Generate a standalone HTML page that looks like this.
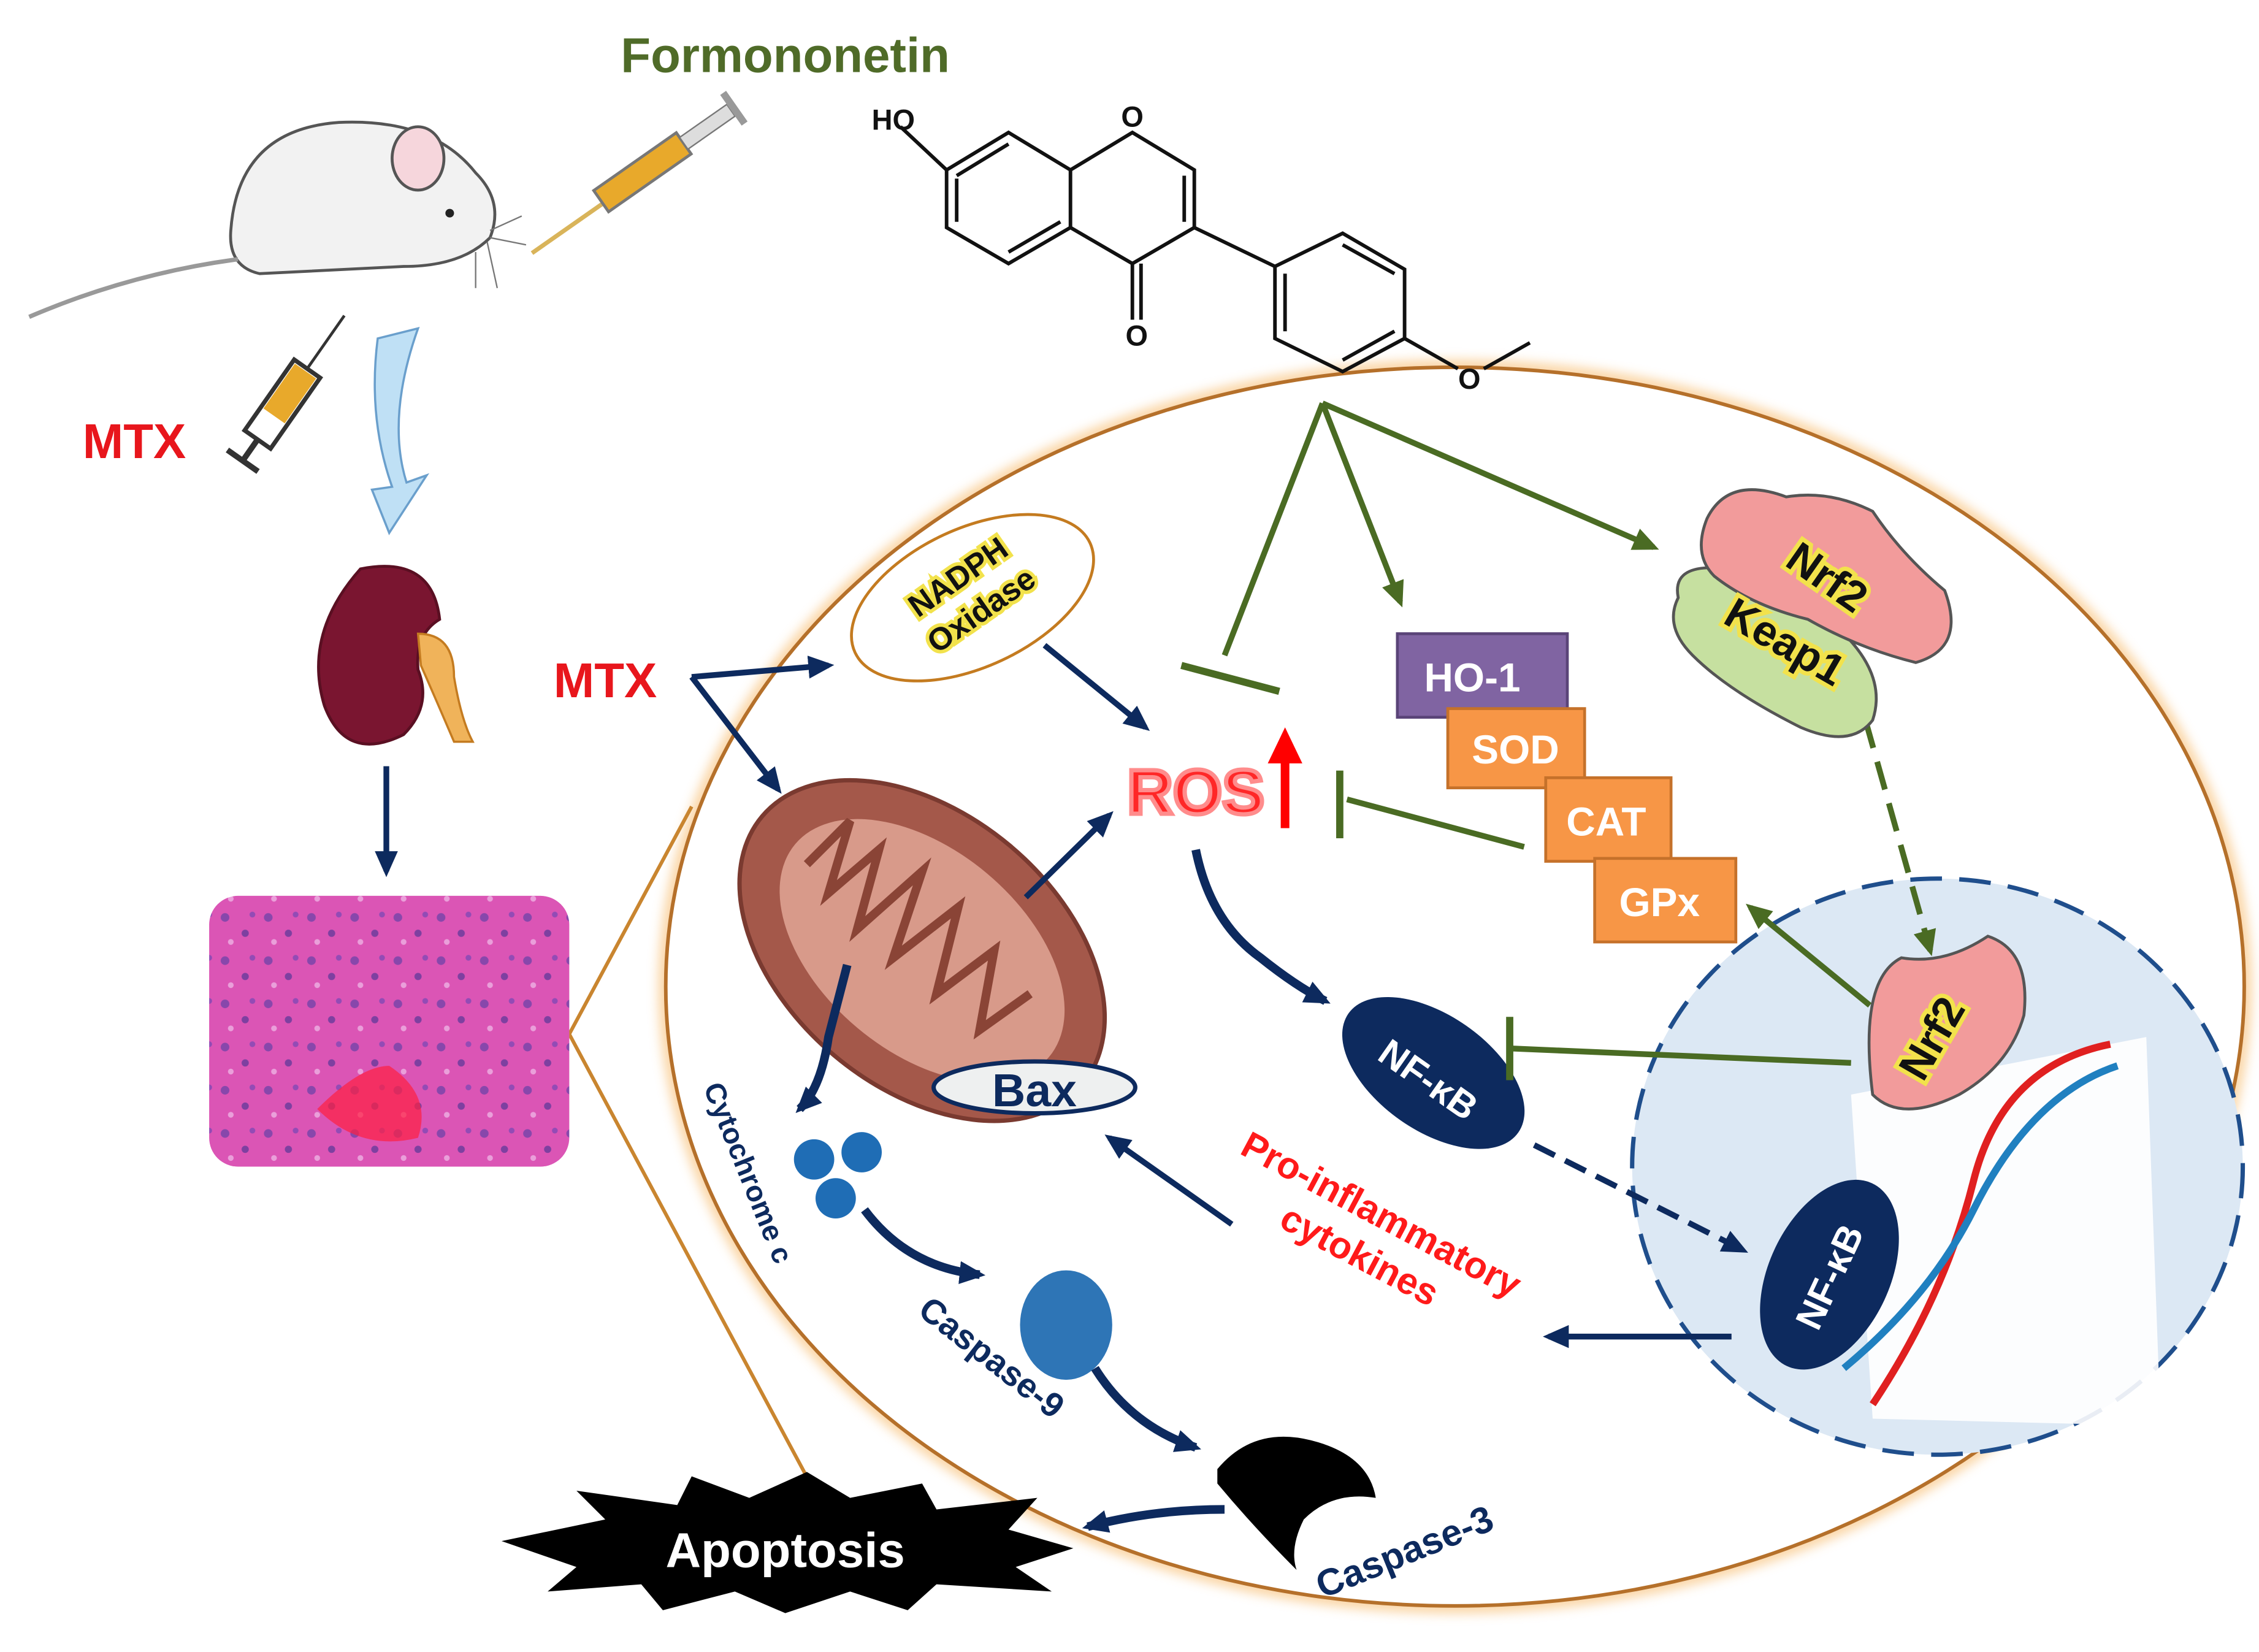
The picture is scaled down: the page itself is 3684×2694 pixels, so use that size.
<!DOCTYPE html>
<html><head><meta charset="utf-8"><style>
html,body{margin:0;padding:0;background:#fff;}
svg{display:block;}
text{font-family:"Liberation Sans",sans-serif;font-weight:bold;}
</style></head><body>
<svg width="3684" height="2694" viewBox="0 0 1568 1147" xmlns="http://www.w3.org/2000/svg">
<defs>
<marker id="nv" markerWidth="8" markerHeight="8" refX="6" refY="4" orient="auto" markerUnits="userSpaceOnUse"><path d="M0,0 L8,4 L0,8 Z" fill="#0d2a5e" transform="scale(2.2) translate(-3,-2)"/></marker>
<marker id="gr" markerWidth="20" markerHeight="20" refX="14" refY="8" orient="auto" markerUnits="userSpaceOnUse"><path d="M0,0 L18,8 L0,16 Z" fill="#4a6b23"/></marker>
<marker id="nb" markerWidth="22" markerHeight="22" refX="14" refY="8" orient="auto" markerUnits="userSpaceOnUse"><path d="M0,0 L18,8 L0,16 Z" fill="#0d2a5e"/></marker>
<marker id="tg" markerWidth="6" markerHeight="40" refX="3" refY="20" orient="auto" markerUnits="userSpaceOnUse"><rect x="0" y="0" width="5" height="40" fill="#4a6b23"/></marker>
<filter id="glow"><feGaussianBlur stdDeviation="4"/></filter>
<pattern id="tis" width="30" height="30" patternUnits="userSpaceOnUse"><rect width="30" height="30" fill="#d94fb0"/><circle cx="6" cy="7" r="3" fill="#5a3aa0"/><circle cx="20" cy="18" r="2.5" fill="#4a2f90"/><circle cx="25" cy="5" r="2" fill="#6a40b0"/><circle cx="10" cy="24" r="2" fill="#f0c0e8"/></pattern>
</defs>

<!-- cell -->
<ellipse cx="1010" cy="685" rx="548" ry="430" fill="none" stroke="#f5a742" stroke-width="10" opacity="0.5" filter="url(#glow)"/>
<ellipse cx="1010" cy="685" rx="548" ry="430" fill="#fff" stroke="#b5702a" stroke-width="2.5"/>
<!-- zoom lines -->
<line x1="395" y1="718" x2="480" y2="560" stroke="#c9852f" stroke-width="2.5"/>
<line x1="395" y1="718" x2="600" y2="1100" stroke="#c9852f" stroke-width="2.5"/>

<!-- nucleus -->
<ellipse cx="1345" cy="810" rx="212" ry="200" fill="#dce8f4" stroke="#1f4e8c" stroke-width="3" stroke-dasharray="22,12"/>

<!-- Formononetin -->
<text x="545" y="50" font-size="34" fill="#4f6b28" text-anchor="middle">Formononetin</text>
<g stroke="#111" stroke-width="2.5" fill="none">
<path d="M657,118 L700,92 L743,118 L743,158 L700,183 L657,158 Z"/>
<path d="M664,122 L700,100 M736,154 L700,175 M664,154 L664,124"/>
<path d="M743,118 L786,92 L829,118 L829,158 L786,183 L743,158"/>
<path d="M822,122 L822,154"/>
<line x1="786" y1="183" x2="786" y2="222"/><line x1="792" y1="183" x2="792" y2="222"/>
<line x1="657" y1="118" x2="625" y2="88"/>
<line x1="829" y1="158" x2="885" y2="185"/>
<path d="M885,185 L932,162 L975,187 L975,235 L932,258 L885,235 Z"/>
<path d="M892,190 L892,230 M932,250 L968,230 M932,170 L968,190"/>
<path d="M975,235 L1012,256 M1030,256 L1062,238"/>
</g>
<text x="605" y="90" font-size="20" fill="#111" font-weight="normal">HO</text>
<text x="786" y="88" font-size="20" fill="#111" font-weight="normal" text-anchor="middle">O</text>
<text x="789" y="240" font-size="20" fill="#111" font-weight="normal" text-anchor="middle">O</text>
<text x="1020" y="270" font-size="20" fill="#111" font-weight="normal" text-anchor="middle">O</text>

<!-- mouse -->
<g>
<path d="M160,160 Q165,90 235,85 Q300,82 330,120 Q350,140 340,165 Q320,185 280,185 L180,190 Q158,185 160,160 Z" fill="#f2f2f2" stroke="#555" stroke-width="2"/>
<ellipse cx="290" cy="110" rx="18" ry="22" fill="#f6d6dc" stroke="#555" stroke-width="2"/>
<circle cx="312" cy="148" r="3" fill="#222"/>
<path d="M165,180 Q90,190 20,220" stroke="#999" stroke-width="3" fill="none"/>
<path d="M340,160 L362,150 M340,165 L365,170 M338,168 L345,200 M330,175 L330,200" stroke="#777" stroke-width="1"/>
</g>
<!-- syringes -->
<g transform="translate(440,120) rotate(-35)">
<path d="M-90,5 L-30,5" stroke="#d9b45a" stroke-width="3"/>
<rect x="-30" y="-6" width="70" height="18" fill="#e8a92b" stroke="#777" stroke-width="2"/>
<rect x="40" y="-2" width="40" height="10" fill="#ddd" stroke="#777"/>
<rect x="80" y="-10" width="5" height="26" fill="#999"/>
</g>
<g transform="translate(195,280) rotate(-55)">
<rect x="-30" y="-10" width="60" height="22" fill="#fff" stroke="#333" stroke-width="3"/>
<rect x="-10" y="-8" width="38" height="18" fill="#e8a92b"/>
<path d="M30,1 L75,1" stroke="#333" stroke-width="2"/>
<path d="M-30,1 L-48,1 M-48,-12 L-48,14" stroke="#333" stroke-width="4"/>
</g>
<text x="93" y="318" font-size="34" fill="#e8161c" text-anchor="middle">MTX</text>
<!-- blue curved arrow -->
<path d="M262,235 L290,228 Q268,290 282,335 L296,330 L270,370 L258,340 L272,338 Q255,290 262,235 Z" fill="#bfe0f5" stroke="#6a9fcc" stroke-width="1.5"/>
<!-- kidney -->
<path d="M250,395 Q300,385 305,430 Q288,440 290,465 Q300,490 280,510 Q240,530 225,490 Q210,440 250,395 Z" fill="#7a1530" stroke="#5a0f22" stroke-width="2"/>
<path d="M290,440 Q315,440 315,470 Q320,500 328,515 L315,515 Q300,480 292,462 Z" fill="#f0b35a" stroke="#c47b20" stroke-width="1.5"/>
<line x1="268" y1="532" x2="268" y2="605" stroke="#0d2a5e" stroke-width="4" marker-end="url(#nb)"/>
<!-- tissue -->
<rect x="145" y="622" width="250" height="188" rx="20" fill="url(#tis)"/>
<rect x="145" y="622" width="250" height="188" rx="20" fill="#e060c0" opacity="0.35"/>
<path d="M220,770 Q250,740 270,740 Q300,760 290,790 Q250,800 220,770Z" fill="#ff2040" opacity="0.7"/>

<!-- MTX middle -->
<text x="420" y="484" font-size="34" fill="#e8161c" text-anchor="middle">MTX</text>
<path d="M480,470 L575,462" stroke="#0d2a5e" stroke-width="4" fill="none" marker-end="url(#nb)"/>
<path d="M480,470 L540,548" stroke="#0d2a5e" stroke-width="4" fill="none" marker-end="url(#nb)"/>

<!-- NADPH -->
<ellipse cx="675" cy="415" rx="90" ry="48" transform="rotate(-25 675 415)" fill="#fff" stroke="#c47b20" stroke-width="2"/>
<g transform="rotate(-35 675 415)"><text x="675" y="405" font-size="22" fill="#111" text-anchor="middle" stroke="#f2e24c" stroke-width="5" paint-order="stroke">NADPH</text><text x="675" y="433" font-size="22" fill="#111" text-anchor="middle" stroke="#f2e24c" stroke-width="5" paint-order="stroke">Oxidase</text></g>
<line x1="725" y1="448" x2="795" y2="505" stroke="#0d2a5e" stroke-width="4" marker-end="url(#nb)"/>

<!-- ROS -->
<text x="830" y="565" font-size="44" fill="#ff1010" text-anchor="middle" stroke="#ff8080" stroke-width="3" opacity="0.9">ROS</text>
<path d="M889,575 L889,530 L880,530 L892,505 L904,530 L895,530 L895,575 Z" fill="#ff0000"/>

<!-- mitochondria -->
<ellipse cx="640" cy="660" rx="145" ry="95" transform="rotate(40 640 660)" fill="#a4584a" stroke="#7a3a30" stroke-width="3"/>
<ellipse cx="640" cy="660" rx="115" ry="70" transform="rotate(40 640 660)" fill="#d89a8a"/>
<path d="M560,600 L590,570 L575,620 L610,590 L595,645 L640,605 L620,665 L665,630 L650,690 L690,660 L680,715 L715,690" stroke="#8a4436" stroke-width="6" fill="none"/>
<line x1="712" y1="623" x2="770" y2="566" stroke="#0d2a5e" stroke-width="4" marker-end="url(#nb)"/>
<ellipse cx="718" cy="755" rx="70" ry="18" fill="#eef0f0" stroke="#0d2a5e" stroke-width="3"/>
<text x="718" y="768" font-size="32" fill="#0d2a5e" text-anchor="middle">Bax</text>

<!-- cytochrome -->
<circle cx="565" cy="805" r="14" fill="#1f6db5"/><circle cx="598" cy="800" r="14" fill="#1f6db5"/><circle cx="580" cy="832" r="14" fill="#1f6db5"/>
<text transform="translate(488,755) rotate(68)" font-size="20" fill="#0d2a5e">Cytochrome c</text>
<path d="M588,670 L575,720 Q570,755 555,770" stroke="#0d2a5e" stroke-width="6" fill="none" marker-end="url(#nb)"/>
<path d="M600,840 Q630,880 680,885" stroke="#0d2a5e" stroke-width="6" fill="none" marker-end="url(#nb)"/>
<ellipse cx="740" cy="920" rx="32" ry="38" fill="#2e75b6"/>
<text transform="translate(636,912) rotate(38)" font-size="24" fill="#0d2a5e">Caspase-9</text>
<path d="M760,950 Q785,990 830,1005" stroke="#0d2a5e" stroke-width="6" fill="none" marker-end="url(#nb)"/>
<path d="M845,1020 Q870,990 910,1000 Q950,1010 955,1040 Q925,1035 905,1055 Q895,1075 900,1090 Q870,1060 845,1030 Z" fill="#000"/>
<text transform="translate(918,1110) rotate(-22)" font-size="26" fill="#0d2a5e">Caspase-3</text>
<path d="M850,1048 Q800,1048 755,1060" stroke="#0d2a5e" stroke-width="6" fill="none" marker-end="url(#nb)"/>
<!-- apoptosis star -->
<path d="M348,1070 L420,1055 L400,1035 L470,1045 L480,1025 L520,1040 L560,1022 L590,1040 L640,1030 L650,1048 L720,1040 L700,1062 L745,1075 L705,1088 L730,1105 L650,1100 L630,1118 L590,1105 L545,1120 L510,1105 L460,1118 L445,1100 L380,1105 L400,1088 Z" fill="#000"/>
<text x="545" y="1088" font-size="34" fill="#fff" text-anchor="middle">Apoptosis</text>

<!-- NF-kB cytoplasm -->
<path d="M830,590 Q840,640 875,665 Q900,685 920,695" stroke="#0d2a5e" stroke-width="6" fill="none" marker-end="url(#nb)"/>
<ellipse cx="995" cy="745" rx="72" ry="40" transform="rotate(35 995 745)" fill="#0d2a5e"/>
<text transform="translate(955,735) rotate(35)" font-size="26" fill="#fff" font-weight="normal">NF-κB</text>
<line x1="1065" y1="795" x2="1210" y2="868" stroke="#0d2a5e" stroke-width="4" stroke-dasharray="16,8" marker-end="url(#nb)"/>
<line x1="855" y1="850" x2="770" y2="790" stroke="#0d2a5e" stroke-width="4" marker-end="url(#nb)"/>
<g transform="rotate(28 950 860)" >
<text x="950" y="850" font-size="26" fill="#ff1a1a" text-anchor="middle">Pro-inflammatory</text>
<text x="950" y="882" font-size="26" fill="#ff1a1a" text-anchor="middle">cytokines</text></g>
<line x1="1202" y1="928" x2="1075" y2="928" stroke="#0d2a5e" stroke-width="4" marker-end="url(#nb)"/>

<!-- green arrows -->
<g stroke="#4a6b23" stroke-width="4" fill="none">
<line x1="918" y1="280" x2="850" y2="455"/>
<line x1="820" y1="462" x2="888" y2="480" stroke-width="5"/>
<line x1="918" y1="280" x2="972" y2="418" marker-end="url(#gr)"/>
<line x1="918" y1="280" x2="1148" y2="380" marker-end="url(#gr)"/>
<line x1="1058" y1="588" x2="935" y2="555"/>
<line x1="930" y1="535" x2="930" y2="582" stroke-width="5"/>
<line x1="1298" y1="698" x2="1215" y2="630" marker-end="url(#gr)"/>
<line x1="1285" y1="738" x2="1050" y2="728"/>
<line x1="1048" y1="706" x2="1048" y2="750" stroke-width="5"/>
<line x1="1295" y1="500" x2="1340" y2="660" stroke-dasharray="20,10" marker-end="url(#gr)"/>
</g>

<!-- enzyme boxes -->
<rect x="970" y="440" width="118" height="58" fill="#8064a2" stroke="#5a4478" stroke-width="2"/>
<text x="1022" y="480" font-size="28" fill="#fff" text-anchor="middle">HO-1</text>
<rect x="1005" y="492" width="95" height="55" fill="#f79646" stroke="#c5712a" stroke-width="2"/>
<text x="1052" y="530" font-size="28" fill="#fff" text-anchor="middle">SOD</text>
<rect x="1073" y="540" width="87" height="58" fill="#f79646" stroke="#c5712a" stroke-width="2"/>
<text x="1115" y="580" font-size="28" fill="#fff" text-anchor="middle">CAT</text>
<rect x="1107" y="596" width="98" height="58" fill="#f79646" stroke="#c5712a" stroke-width="2"/>
<text x="1152" y="636" font-size="28" fill="#fff" text-anchor="middle">GPx</text>

<!-- Nrf2 Keap1 -->
<path d="M1165,415 Q1160,390 1200,395 Q1240,410 1280,440 Q1310,470 1300,500 Q1285,520 1250,505 Q1200,480 1175,455 Q1155,435 1165,415 Z" fill="#c6e0a0" stroke="#555" stroke-width="2"/>
<path d="M1185,360 Q1200,330 1240,345 Q1270,340 1300,355 Q1320,385 1350,410 Q1365,450 1330,460 Q1290,450 1255,430 Q1215,420 1190,400 Q1175,385 1185,360 Z" fill="#f29b9b" stroke="#555" stroke-width="2"/>
<g stroke="#f2e24c" stroke-width="6" paint-order="stroke"><text transform="translate(1238,392) rotate(35)" font-size="30" fill="#111">Nrf2</text>
<text transform="translate(1195,432) rotate(30)" font-size="30" fill="#111">Keap1</text></g>

<!-- nucleus content -->
<polygon points="1285,760 1490,720 1500,990 1300,985" fill="#fff" opacity="0.9"/>
<path d="M1300,975 Q1350,900 1370,820 Q1390,740 1465,725" stroke="#e02020" stroke-width="5" fill="none"/>
<path d="M1280,950 Q1340,900 1370,840 Q1410,760 1470,740" stroke="#2080c0" stroke-width="5" fill="none"/>
<path d="M1300,760 Q1290,680 1320,665 Q1350,670 1380,650 Q1410,660 1405,705 Q1395,740 1360,760 Q1320,780 1300,760 Z" fill="#f29b9b" stroke="#555" stroke-width="2"/>
<text transform="translate(1335,752) rotate(-60)" font-size="30" fill="#111" stroke="#f2e24c" stroke-width="6" paint-order="stroke">Nrf2</text>
<ellipse cx="1270" cy="885" rx="70" ry="42" transform="rotate(-65 1270 885)" fill="#0d2a5e"/>
<text transform="translate(1262,925) rotate(-65)" font-size="26" fill="#fff" font-weight="normal">NF-κB</text>
</svg>
</body></html>
